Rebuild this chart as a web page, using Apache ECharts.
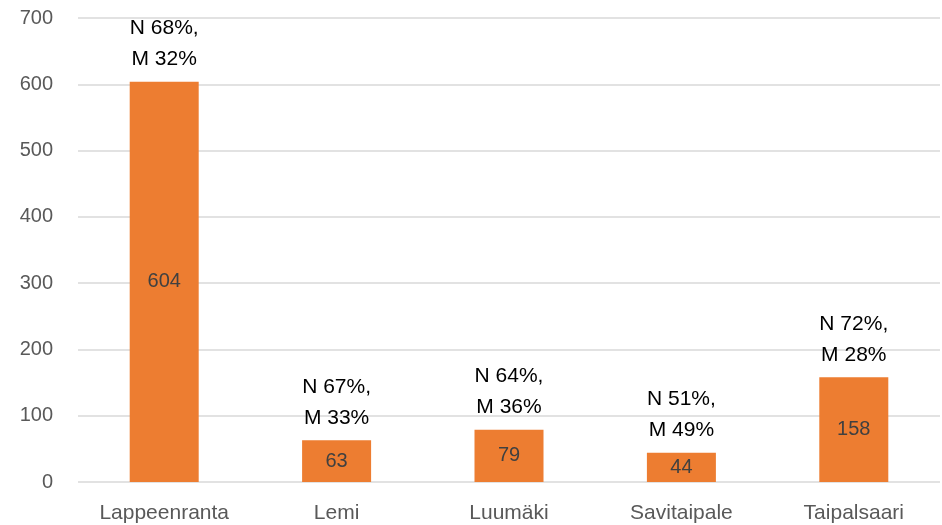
<!DOCTYPE html>
<html><head><meta charset="utf-8">
<script src="https://cdn.jsdelivr.net/npm/echarts@6/dist/echarts.min.js"></script>
<style>html,body{margin:0;padding:0;background:#fff}#c{width:942px;height:525px}</style>
</head><body><div id="c"></div>
<script>
const categories = ['Lappeenranta', 'Lemi', 'Luumäki', 'Savitaipale', 'Taipalsaari'];
const counts = [604, 63, 79, 44, 158];
const naisetPct = [68, 67, 64, 51, 72];
const miehetPct = [32, 33, 36, 49, 28];
const yTicks = [0, 100, 200, 300, 400, 500, 600, 700];

const font = 'Liberation Sans';
const chart = echarts.init(document.getElementById('c'));
chart.setOption({
  animation: false,
  grid: { left: 78, right: 2, top: 18, bottom: 43 },
  xAxis: {
    type: 'category', data: categories,
    axisLine: { show: false }, axisTick: { show: false },
    axisLabel: { color: '#595959', fontSize: 21, fontFamily: font, margin: 21 }
  },
  yAxis: {
    type: 'value', min: yTicks[0], max: yTicks[yTicks.length - 1], interval: 100,
    axisLine: { show: false }, axisTick: { show: false },
    splitLine: { lineStyle: { color: '#d9d9d9', width: 1.5 } },
    axisLabel: { color: '#595959', fontSize: 20, fontFamily: font, margin: 25 }
  },
  series: [
    {
      type: 'bar', data: counts, barWidth: 69,
      itemStyle: { color: '#ED7D31' },
      label: { show: true, position: 'inside', color: '#404040', fontSize: 20, fontFamily: font }
    },
    {
      type: 'bar', data: counts, barWidth: 69, barGap: '-100%',
      itemStyle: { color: 'rgba(0,0,0,0)' },
      label: {
        show: true, position: 'top', distance: 7, color: '#000', fontSize: 21, fontFamily: font,
        lineHeight: 31,
        formatter: p => 'N ' + naisetPct[p.dataIndex] + '%,\nM ' + miehetPct[p.dataIndex] + '%'
      }
    }
  ]
});
</script></body></html>
